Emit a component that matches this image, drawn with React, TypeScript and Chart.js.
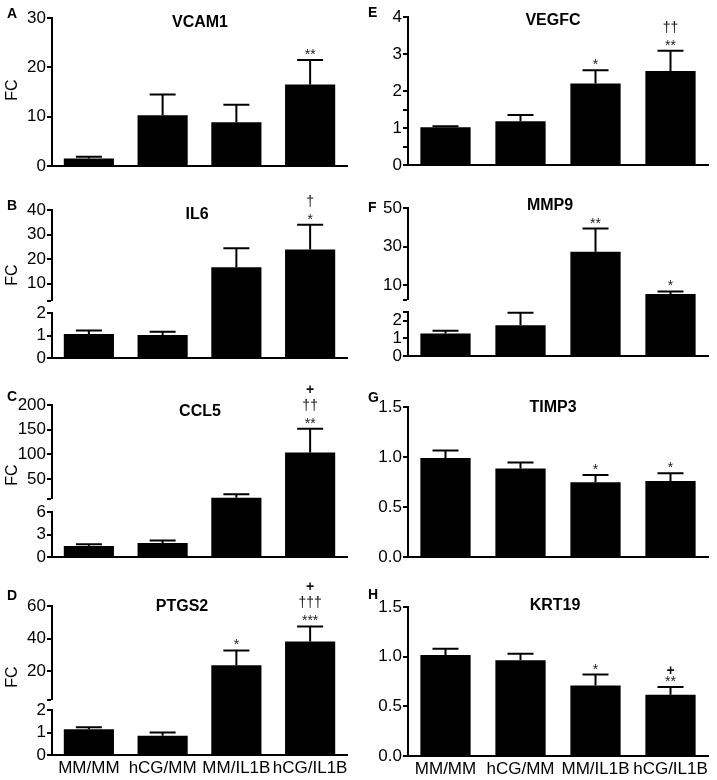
import React, { useEffect, useRef } from 'react';
import { Chart, registerables } from 'chart.js';

Chart.register(...registerables);

const categories = ['MM/MM', 'hCG/MM', 'MM/IL1B', 'hCG/IL1B'];

// A VCAM1
const vcam1Mean = [1.5, 10.3, 8.85, 16.5];
const vcam1Sem = [0.4, 4.2, 3.55, 5.0];
const vcam1Stars = ['', '', '', '**'];
const vcam1Daggers = ['', '', '', ''];
const vcam1Plus = ['', '', '', ''];
const vcam1Ticks = [0, 10, 20, 30];
const vcam1TickLabels = ['0', '10', '20', '30'];

// B IL6
const il6Mean = [1.07, 1.02, 16.7, 23.9];
const il6Sem = [0.15, 0.15, 7.7, 10.1];
const il6Stars = ['', '', '', '*'];
const il6Daggers = ['', '', '', '†'];
const il6Plus = ['', '', '', ''];
const il6LowTicks = [0, 1, 2];
const il6LowTickLabels = ['0', '1', '2'];
const il6HighTicks = [3, 10, 20, 30, 40];
const il6HighTickLabels = ['', '10', '20', '30', '40'];

// C CCL5
const ccl5Mean = [1.47, 1.87, 12.5, 103.8];
const ccl5Sem = [0.23, 0.33, 7.0, 48.0];
const ccl5Stars = ['', '', '', '**'];
const ccl5Daggers = ['', '', '', '††'];
const ccl5Plus = ['', '', '', '+'];
const ccl5LowTicks = [0, 3, 6];
const ccl5LowTickLabels = ['0', '3', '6'];
const ccl5HighTicks = [10, 50, 100, 150, 200];
const ccl5HighTickLabels = ['', '50', '100', '150', '200'];

// D PTGS2
const ptgs2Mean = [1.15, 0.86, 23.7, 38.3];
const ptgs2Sem = [0.08, 0.14, 9.1, 9.2];
const ptgs2Stars = ['', '', '*', '***'];
const ptgs2Daggers = ['', '', '', '†††'];
const ptgs2Plus = ['', '', '', '+'];
const ptgs2LowTicks = [0, 1, 2];
const ptgs2LowTickLabels = ['0', '1', '2'];
const ptgs2HighTicks = [2.5, 20, 40, 60];
const ptgs2HighTickLabels = ['', '20', '40', '60'];

// E VEGFC
const vegfcMean = [1.02, 1.18, 2.2, 2.54];
const vegfcSem = [0.03, 0.17, 0.36, 0.55];
const vegfcStars = ['', '', '*', '**'];
const vegfcDaggers = ['', '', '', '††'];
const vegfcPlus = ['', '', '', ''];
const vegfcTicks = [0, 0.5, 1, 1.5, 2, 3, 4];
const vegfcTickLabels = ['0', '', '1', '', '2', '3', '4'];

// F MMP9
const mmp9Mean = [1.28, 1.75, 27.4, 5.6];
const mmp9Sem = [0.15, 0.71, 12.0, 1.3];
const mmp9Stars = ['', '', '**', '*'];
const mmp9Daggers = ['', '', '', ''];
const mmp9Plus = ['', '', '', ''];
const mmp9LowTicks = [0, 1, 2, 2.5];
const mmp9LowTickLabels = ['0', '1', '2', ''];
const mmp9HighTicks = [2.5, 10, 30, 50];
const mmp9HighTickLabels = ['', '10', '30', '50'];

// G TIMP3
const timp3Mean = [0.99, 0.885, 0.747, 0.76];
const timp3Sem = [0.074, 0.06, 0.073, 0.077];
const timp3Stars = ['', '', '*', '*'];
const timp3Daggers = ['', '', '', ''];
const timp3Plus = ['', '', '', ''];
const fracTicks = [0, 0.5, 1, 1.5];
const fracTickLabels = ['0.0', '0.5', '1.0', '1.5'];

// H KRT19
const krt19Mean = [1.017, 0.963, 0.71, 0.617];
const krt19Sem = [0.063, 0.067, 0.11, 0.077];
const krt19Stars = ['', '', '*', '**'];
const krt19Daggers = ['', '', '', ''];
const krt19Plus = ['', '', '', '+'];

const FONT = "'Liberation Sans', Arial, Helvetica, sans-serif";

type Broken = {
  lowMax: number;
  lowTicks: number[];
  lowLabels: string[];
  highMin: number;
  highMax: number;
  highTicks: number[];
  highLabels: string[];
  weights: [number, number, number];
};

type Panel = {
  key: string;
  canvas: { x: number; y: number; w: number; h: number };
  area: { left: number; right: number; top: number; bottom: number };
  letter: string;
  letterPos: [number, number];
  title: string;
  titlePos: [number, number];
  fcY: number | null;
  xLabels: boolean;
  barPct: number;
  mean: number[];
  sem: number[];
  stars: string[];
  daggers: string[];
  plus: string[];
  ticks?: number[];
  tickLabels?: string[];
  yMax?: number;
  broken?: Broken;
};

const panels: Panel[] = [
  {
    key: 'A', canvas: { x: 0, y: 0, w: 358, h: 190 }, area: { left: 52, right: 347, top: 18, bottom: 166 },
    letter: 'A', letterPos: [7, 18], title: 'VCAM1', titlePos: [200, 26.5], fcY: 90, xLabels: false, barPct: 0.68,
    mean: vcam1Mean, sem: vcam1Sem, stars: vcam1Stars, daggers: vcam1Daggers, plus: vcam1Plus,
    ticks: vcam1Ticks, tickLabels: vcam1TickLabels, yMax: 30,
  },
  {
    key: 'B', canvas: { x: 0, y: 190, w: 358, h: 188 }, area: { left: 52, right: 347, top: 210, bottom: 358 },
    letter: 'B', letterPos: [7, 210], title: 'IL6', titlePos: [197, 218.5], fcY: 275, xLabels: false, barPct: 0.68,
    mean: il6Mean, sem: il6Sem, stars: il6Stars, daggers: il6Daggers, plus: il6Plus,
    broken: { lowMax: 2, lowTicks: il6LowTicks, lowLabels: il6LowTickLabels, highMin: 3, highMax: 40, highTicks: il6HighTicks, highLabels: il6HighTickLabels, weights: [91, 12, 45] },
  },
  {
    key: 'C', canvas: { x: 0, y: 378, w: 358, h: 200 }, area: { left: 52, right: 347, top: 405, bottom: 557 },
    letter: 'C', letterPos: [7, 401], title: 'CCL5', titlePos: [200, 416], fcY: 475, xLabels: false, barPct: 0.68,
    mean: ccl5Mean, sem: ccl5Sem, stars: ccl5Stars, daggers: ccl5Daggers, plus: ccl5Plus,
    broken: { lowMax: 6, lowTicks: ccl5LowTicks, lowLabels: ccl5LowTickLabels, highMin: 10, highMax: 200, highTicks: ccl5HighTicks, highLabels: ccl5HighTickLabels, weights: [94, 13, 45] },
  },
  {
    key: 'D', canvas: { x: 0, y: 578, w: 358, h: 202 }, area: { left: 52, right: 347, top: 606, bottom: 755 },
    letter: 'D', letterPos: [7, 600], title: 'PTGS2', titlePos: [182, 611], fcY: 677, xLabels: true, barPct: 0.68,
    mean: ptgs2Mean, sem: ptgs2Sem, stars: ptgs2Stars, daggers: ptgs2Daggers, plus: ptgs2Plus,
    broken: { lowMax: 2, lowTicks: ptgs2LowTicks, lowLabels: ptgs2LowTickLabels, highMin: 2.5, highMax: 60, highTicks: ptgs2HighTicks, highLabels: ptgs2HighTickLabels, weights: [94, 10, 45] },
  },
  {
    key: 'E', canvas: { x: 358, y: 0, w: 359, h: 190 }, area: { left: 408, right: 708, top: 17, bottom: 165 },
    letter: 'E', letterPos: [368, 17], title: 'VEGFC', titlePos: [553, 25], fcY: null, xLabels: false, barPct: 0.67,
    mean: vegfcMean, sem: vegfcSem, stars: vegfcStars, daggers: vegfcDaggers, plus: vegfcPlus,
    ticks: vegfcTicks, tickLabels: vegfcTickLabels, yMax: 4,
  },
  {
    key: 'F', canvas: { x: 358, y: 190, w: 359, h: 188 }, area: { left: 408, right: 708, top: 208, bottom: 356 },
    letter: 'F', letterPos: [368, 212], title: 'MMP9', titlePos: [550, 210], fcY: null, xLabels: false, barPct: 0.67,
    mean: mmp9Mean, sem: mmp9Sem, stars: mmp9Stars, daggers: mmp9Daggers, plus: mmp9Plus,
    broken: { lowMax: 2.5, lowTicks: mmp9LowTicks, lowLabels: mmp9LowTickLabels, highMin: 2.5, highMax: 50, highTicks: mmp9HighTicks, highLabels: mmp9HighTickLabels, weights: [92, 12, 44] },
  },
  {
    key: 'G', canvas: { x: 358, y: 378, w: 359, h: 200 }, area: { left: 408, right: 708, top: 407, bottom: 557 },
    letter: 'G', letterPos: [368, 402], title: 'TIMP3', titlePos: [553, 412.3], fcY: null, xLabels: false, barPct: 0.67,
    mean: timp3Mean, sem: timp3Sem, stars: timp3Stars, daggers: timp3Daggers, plus: timp3Plus,
    ticks: fracTicks, tickLabels: fracTickLabels, yMax: 1.5,
  },
  {
    key: 'H', canvas: { x: 358, y: 578, w: 359, h: 202 }, area: { left: 408, right: 708, top: 607, bottom: 756 },
    letter: 'H', letterPos: [368, 599], title: 'KRT19', titlePos: [555, 610], fcY: null, xLabels: true, barPct: 0.67,
    mean: krt19Mean, sem: krt19Sem, stars: krt19Stars, daggers: krt19Daggers, plus: krt19Plus,
    ticks: fracTicks, tickLabels: fracTickLabels, yMax: 1.5,
  },
];

function makeConfig(p: Panel): any {
  const cx = p.canvas.x, cy = p.canvas.y;
  const padTop = p.area.top - cy;
  const yWidth = p.area.left - cx;
  const padRight = cx + p.canvas.w - p.area.right;
  const xHeight = cy + p.canvas.h - p.area.bottom;

  const yScale = (vals: number[], labels: string[], min: number, max: number, weight: number, stackWeight?: number, hidden?: boolean) => ({
    type: 'linear',
    position: 'left',
    min,
    max,
    weight,
    ...(stackWeight !== undefined ? { stack: 'ystack', stackWeight } : {}),
    border: { display: !hidden, color: '#000', width: 2 },
    grid: {
      display: !hidden,
      drawOnChartArea: false,
      drawTicks: true,
      tickLength: 5,
      color: '#000',
      tickColor: '#000',
      lineWidth: 0,
      tickWidth: 2,
    },
    ticks: {
      display: !hidden,
      color: '#000',
      font: { family: FONT, size: 17 },
      padding: 1,
      autoSkip: false,
      callback: (v: number) => {
        const i = vals.indexOf(v);
        return i >= 0 ? labels[i] : '';
      },
    },
    afterBuildTicks: (s: any) => {
      s.ticks = vals.map((v) => ({ value: v }));
    },
    afterFit: (s: any) => {
      s.width = yWidth;
      s.paddingTop = 0;
      s.paddingBottom = 0;
    },
  });

  const scales: any = {
    x: {
      type: 'category',
      offset: true,
      border: { display: true, color: '#000', width: 2 },
      grid: { display: false, drawTicks: false },
      ticks: {
        display: p.xLabels,
        color: '#000',
        font: { family: FONT, size: 17 },
        padding: 3,
        autoSkip: false,
        maxRotation: 0,
        minRotation: 0,
      },
      afterFit: (s: any) => {
        s.height = xHeight;
        s.paddingLeft = 0;
        s.paddingRight = 0;
      },
    },
  };

  const barBase = {
    backgroundColor: '#000',
    borderWidth: 0,
    barPercentage: p.barPct,
    categoryPercentage: 1,
    grouped: false,
    clip: false,
  };

  let datasets: any[];
  const b = p.broken;
  if (b) {
    scales.yHigh = yScale(b.highTicks, b.highLabels, b.highMin, b.highMax, 3, b.weights[0]);
    scales.yGap = yScale([], [], 0, 1, 2, b.weights[1], true);
    scales.yLow = yScale(b.lowTicks, b.lowLabels, 0, b.lowMax, 1, b.weights[2]);
    datasets = [
      { ...barBase, yAxisID: 'yLow', data: p.mean.map((v) => Math.min(v, b.lowMax)) },
      { ...barBase, yAxisID: 'yGap', data: p.mean.map((v) => (v > b.lowMax ? 1 : null)), base: 0 },
      { ...barBase, yAxisID: 'yHigh', data: p.mean.map((v) => (v > b.lowMax ? v : null)), base: b.highMin },
    ];
  } else {
    scales.y = yScale(p.ticks!, p.tickLabels!, 0, p.yMax!, 1);
    datasets = [{ ...barBase, yAxisID: 'y', data: p.mean }];
  }

  const pix = (chart: any, v: number) => {
    if (!b) return chart.scales.y.getPixelForValue(v);
    return v > b.lowMax ? chart.scales.yHigh.getPixelForValue(v) : chart.scales.yLow.getPixelForValue(v);
  };

  const decor = {
    id: 'decor' + p.key,
    afterDatasetsDraw(chart: any) {
      const ctx = chart.ctx;
      const xs = chart.scales.x;
      ctx.save();
      ctx.strokeStyle = '#000';
      ctx.lineWidth = 2;
      p.mean.forEach((m, i) => {
        const x = xs.getPixelForValue(i);
        const y1 = pix(chart, m);
        const y2 = pix(chart, m + p.sem[i]);
        ctx.beginPath();
        ctx.moveTo(x, y1);
        ctx.lineTo(x, y2);
        ctx.moveTo(x - 13, y2);
        ctx.lineTo(x + 13, y2);
        ctx.stroke();
        ctx.textAlign = 'center';
        ctx.textBaseline = 'alphabetic';
        if (p.stars[i]) {
          ctx.fillStyle = '#222';
          ctx.font = `14px ${FONT}`;
          ctx.fillText(p.stars[i], x, y2 - 9 + 8);
        }
        if (p.daggers[i]) {
          ctx.fillStyle = '#111';
          ctx.font = `14px ${FONT}`;
          ctx.fillText(p.daggers[i], x, y2 - 23 + 4);
        }
        if (p.plus[i]) {
          ctx.fillStyle = '#111';
          ctx.font = `bold 14px ${FONT}`;
          const cyp = p.daggers[i] ? y2 - 40 : y2 - 17;
          ctx.fillText(p.plus[i], x, cyp + 5);
        }
      });
      ctx.restore();
    },
    afterDraw(chart: any) {
      const ctx = chart.ctx;
      ctx.save();
      ctx.fillStyle = '#000';
      ctx.textBaseline = 'alphabetic';
      ctx.textAlign = 'left';
      ctx.font = `bold 14px ${FONT}`;
      ctx.fillText(p.letter, p.letterPos[0] - cx, p.letterPos[1] - cy);
      ctx.textAlign = 'center';
      ctx.font = `bold 16px ${FONT}`;
      ctx.fillText(p.title, p.titlePos[0] - cx, p.titlePos[1] - cy);
      if (p.fcY !== null) {
        ctx.save();
        ctx.translate(12.5 - cx, p.fcY - cy);
        ctx.rotate(-Math.PI / 2);
        ctx.textAlign = 'center';
        ctx.textBaseline = 'middle';
        ctx.font = `16px ${FONT}`;
        ctx.fillText('FC', 0, 0);
        ctx.restore();
      }
      ctx.restore();
    },
  };

  return {
    type: 'bar',
    data: { labels: categories, datasets },
    options: {
      responsive: false,
      animation: false,
      devicePixelRatio: 1,
      layout: { padding: { left: 0, right: padRight, top: padTop, bottom: 0 } },
      plugins: { legend: { display: false }, tooltip: { enabled: false }, title: { display: false } },
      scales,
    },
    plugins: [decor],
  };
}

function PanelChart({ p }: { p: Panel }) {
  const ref = useRef<HTMLCanvasElement>(null);
  useEffect(() => {
    if (!ref.current) return;
    const chart = new Chart(ref.current, makeConfig(p));
    return () => chart.destroy();
  }, [p]);
  return (
    <canvas
      ref={ref}
      width={p.canvas.w}
      height={p.canvas.h}
      style={{ position: 'absolute', left: p.canvas.x, top: p.canvas.y, width: p.canvas.w, height: p.canvas.h }}
    />
  );
}

export default function App() {
  return (
    <div style={{ position: 'absolute', left: 0, top: 0, width: 717, height: 780, background: '#fff', overflow: 'hidden' }}>
      {panels.map((p) => (
        <PanelChart key={p.key} p={p} />
      ))}
    </div>
  );
}
